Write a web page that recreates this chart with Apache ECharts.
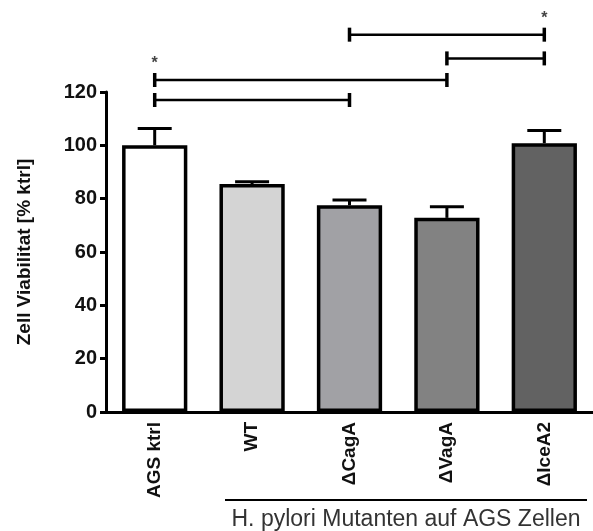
<!DOCTYPE html>
<html><head><meta charset="utf-8">
<script src="https://cdn.jsdelivr.net/npm/echarts@6/dist/echarts.min.js"></script>
<style>html,body{margin:0;padding:0;background:#fff}#c{width:593px;height:531px}</style>
</head><body><div id="c"></div>
<script>
const categories = ['AGS ktrl', 'WT', '\u0394CagA', '\u0394VagA', '\u0394IceA2'];
const means = [100, 85.5, 77.5, 72.8, 100.8];
const errTops = [106.3, 86.3, 79.5, 77, 105.6];
const barColors = ['#ffffff', '#d4d4d4', '#a1a1a5', '#828282', '#626262'];
// significance brackets: [fromIndex, toIndex, level]
const brackets = [[0, 2, 117], [0, 3, 124.5], [3, 4, 132.6], [2, 4, 141.5]];
// stars: [index, level]
const stars = [[0, 130.5], [4, 147.5]];
const yTicks = [0, 20, 40, 60, 80, 100, 120];

const chart = echarts.init(document.getElementById('c'));
const F = 'Liberation Sans, Arial, sans-serif';
chart.setOption({
  animation: false,
  grid: {left: 106, right: -7, top: 92, bottom: 119},
  xAxis: {
    type: 'category', data: categories,
    axisLine: {lineStyle: {color: '#000', width: 3}},
    axisTick: {alignWithLabel: true, length: 8, lineStyle: {color: '#000', width: 3}},
    axisLabel: {rotate: 90, color: '#111', fontFamily: F, fontSize: 19, fontWeight: 'bold', margin: 10}
  },
  yAxis: {
    type: 'value', min: 0, max: 120, interval: 20,
    name: 'Zell Viabilitat [% ktrl]', nameLocation: 'middle', nameGap: 72,
    nameTextStyle: {color: '#111', fontFamily: F, fontSize: 19, fontWeight: 'bold'},
    axisLine: {show: true, lineStyle: {color: '#000', width: 3}},
    axisTick: {show: true, length: 6, lineStyle: {color: '#000', width: 3}},
    axisLabel: {color: '#111', fontFamily: F, fontSize: 20, fontWeight: 'bold', margin: 9,
      formatter: v => yTicks.includes(v) ? String(v) : ''},
    splitLine: {show: false}
  },
  series: [
    {
      type: 'bar', barWidth: '67%',
      data: means.map((v, i) => ({value: v, itemStyle: {color: barColors[i]}})),
      itemStyle: {borderColor: '#000', borderWidth: 3.5}, z: 2
    },
    {
      type: 'custom', z: 3, clip: false,
      data: means.map((v, i) => [i, v, errTops[i]]),
      renderItem: (params, api) => {
        const b = api.coord([api.value(0), api.value(1)]);
        const t = api.coord([api.value(0), api.value(2)]);
        const hw = 17;
        return {type: 'group', children: [
          {type: 'line', shape: {x1: b[0], y1: b[1], x2: t[0], y2: t[1]}, style: {stroke: '#000', lineWidth: 3}},
          {type: 'line', shape: {x1: t[0] - hw, y1: t[1], x2: t[0] + hw, y2: t[1]}, style: {stroke: '#000', lineWidth: 3}}
        ]};
      }
    },
    {
      type: 'custom', z: 3, clip: false,
      data: brackets,
      renderItem: (params, api) => {
        const a = api.coord([api.value(0), api.value(2)]);
        const b = api.coord([api.value(1), api.value(2)]);
        const h = 7;
        return {type: 'group', children: [
          {type: 'line', shape: {x1: a[0], y1: a[1], x2: b[0], y2: b[1]}, style: {stroke: '#000', lineWidth: 2.5}},
          {type: 'line', shape: {x1: a[0], y1: a[1] - h, x2: a[0], y2: a[1] + h}, style: {stroke: '#000', lineWidth: 3.5}},
          {type: 'line', shape: {x1: b[0], y1: b[1] - h, x2: b[0], y2: b[1] + h}, style: {stroke: '#000', lineWidth: 3.5}}
        ]};
      }
    },
    {
      type: 'custom', z: 3, clip: false,
      data: stars,
      renderItem: (params, api) => {
        const p = api.coord([api.value(0), api.value(1)]);
        return {type: 'text', x: p[0], y: p[1], style: {text: '*', fill: '#444', font: 'bold 16px ' + F, align: 'center', verticalAlign: 'middle'}};
      }
    }
  ],
  graphic: [
    {type: 'line', shape: {x1: 225, y1: 500, x2: 587, y2: 500}, style: {stroke: '#000', lineWidth: 2}},
    {type: 'text', x: 406, y: 520, style: {text: 'H. pylori Mutanten auf AGS Zellen', fill: '#333', font: '23px ' + F, align: 'center', verticalAlign: 'middle'}}
  ]
});
</script></body></html>
